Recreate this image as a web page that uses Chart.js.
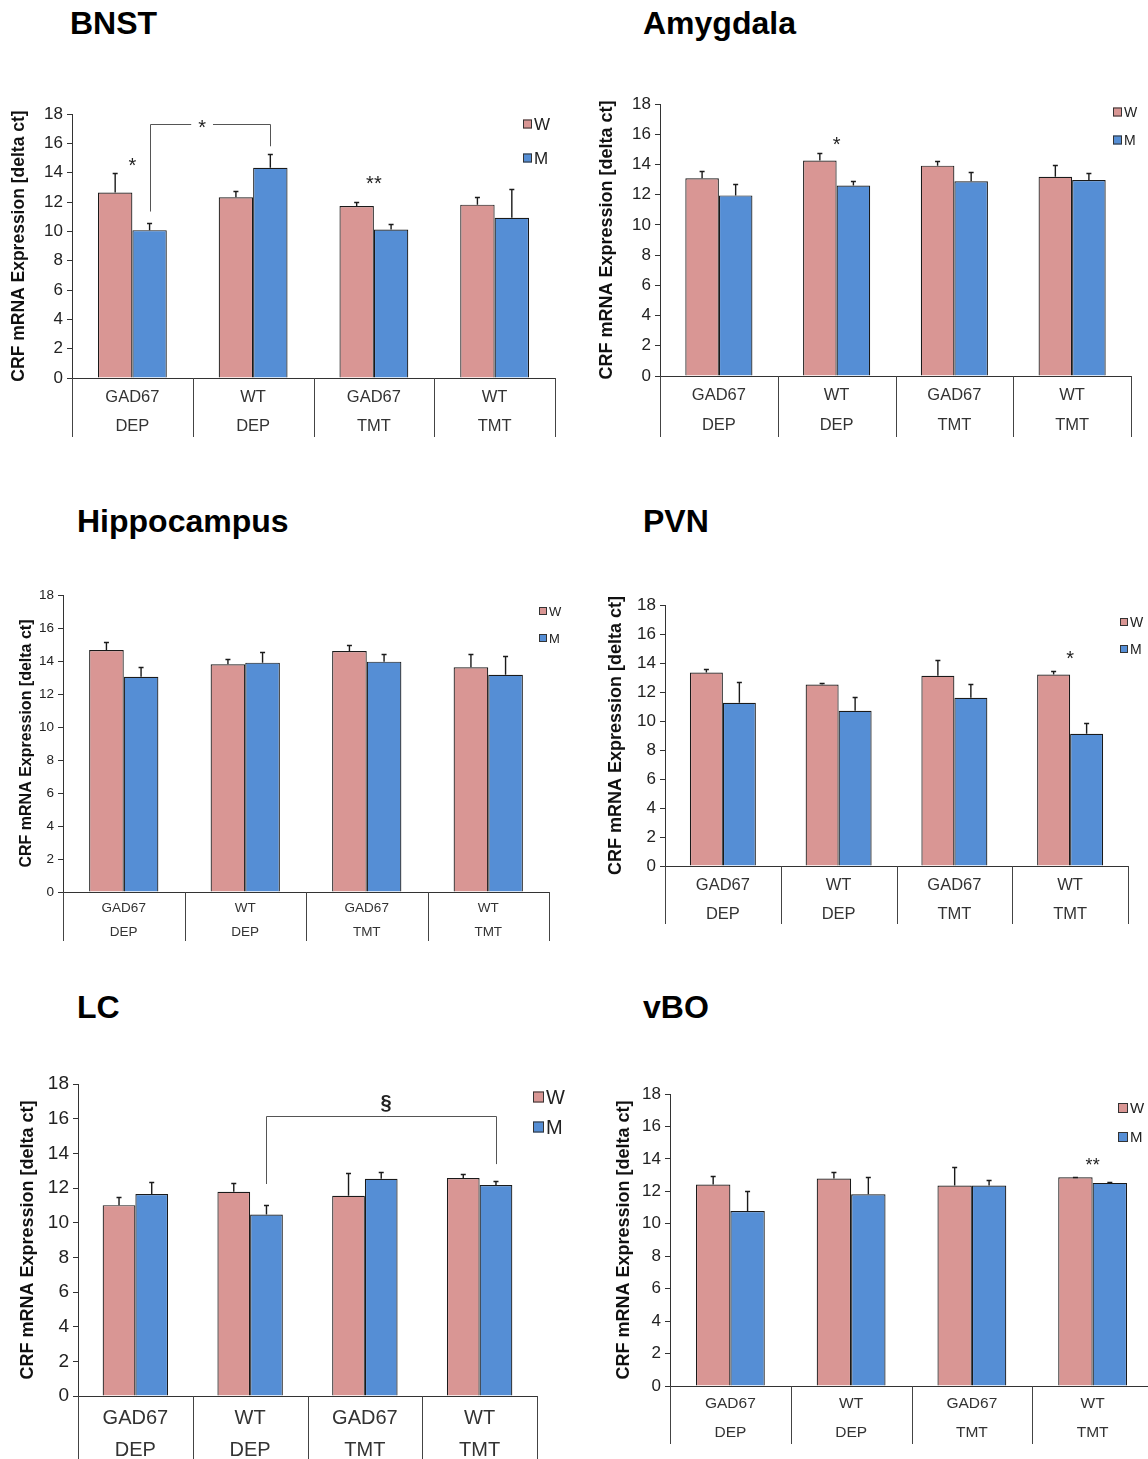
<!DOCTYPE html>
<html>
<head>
<meta charset="utf-8">
<title>CRF mRNA expression by region</title>
<script src="https://cdn.jsdelivr.net/npm/chart.js@4.4.1/dist/chart.umd.min.js"></script>
<style>
    html, body { margin: 0; padding: 0; background: #fff; overflow: hidden; }
    body { position: relative; width: 1148px; height: 1459px; font-family: 'Liberation Sans', Arial, sans-serif; }
    .region-title { position: absolute; font-size: 32px; line-height: 32px; font-weight: bold; color: #000; white-space: nowrap; }
    canvas { position: absolute; }
</style>
</head>
<body>
<script>
// groups on the x axis (genotype / treatment)
const categories = [['GAD67', 'DEP'], ['WT', 'DEP'], ['GAD67', 'TMT'], ['WT', 'TMT']]
const seriesNames = ['W', 'M']
const seriesColors = ['#D99694', '#558ED5']
const yMin = 0
const yMax = 18
const yStep = 2
const yAxisTitle = 'CRF mRNA Expression [delta ct]'

// mean delta ct and upper SEM per group
const bnstW = [12.65, 12.32, 11.73, 11.82]
const bnstWErr = [1.30, 0.44, 0.30, 0.50]
const bnstM = [10.08, 14.34, 10.12, 10.92]
const bnstMErr = [0.47, 0.96, 0.37, 1.97]

const amygdalaW = [13.08, 14.26, 13.92, 13.19]
const amygdalaWErr = [0.51, 0.53, 0.32, 0.80]
const amygdalaM = [11.95, 12.60, 12.88, 12.97]
const amygdalaMErr = [0.78, 0.33, 0.62, 0.49]

const hippocampusW = [14.67, 13.80, 14.61, 13.62]
const hippocampusWErr = [0.50, 0.32, 0.38, 0.83]
const hippocampusM = [13.05, 13.90, 13.96, 13.16]
const hippocampusMErr = [0.57, 0.67, 0.49, 1.13]

const pvnW = [13.35, 12.52, 13.12, 13.21]
const pvnWErr = [0.21, 0.12, 1.08, 0.26]
const pvnM = [11.26, 10.70, 11.60, 9.12]
const pvnMErr = [1.40, 0.97, 0.92, 0.76]

const lcW = [11.01, 11.78, 11.55, 12.57]
const lcWErr = [0.48, 0.48, 1.29, 0.23]
const lcM = [11.65, 10.47, 12.53, 12.17]
const lcMErr = [0.67, 0.54, 0.39, 0.23]

const vboW = [12.42, 12.79, 12.36, 12.87]
const vboWErr = [0.55, 0.43, 1.15, 0.03]
const vboM = [10.79, 11.82, 12.36, 12.52]
const vboMErr = [1.26, 1.05, 0.35, 0.04]

const FONT = "'Liberation Sans', Arial, sans-serif"
Chart.defaults.font.family = FONT

// page layout of each panel: canvas box, plot box, fonts, legend, significance marks
const panels = [
    {
        title: 'BNST', titleAt: [70, 34], w: bnstW, wErr: bnstWErr, m: bnstM, mErr: bnstMErr,
        canvas: {left: 5, top: 90, right: 570, bottom: 437},
        plot: {left: 72, right: 555, top: 114, bottom: 378},
        fonts: {tick: 17, cat: 16.5, catLine: 29, catPad: 4.5, yTitle: 17.5, mark: 20},
        legend: {x: 523, rows: [124, 158], box: 9, font: 17},
        marks: [{cat: 0, text: '*', value: 14.7}, {cat: 2, text: '**', value: 13.5}],
        brackets: [{from: [0, 1], to: [1, 1], left: 11.35, right: 15.8, top: 17.3, text: '*', textAt: 0.43, textValue: 17.3, gap: true}]
    },
    {
        title: 'Amygdala', titleAt: [643, 34], w: amygdalaW, wErr: amygdalaWErr, m: amygdalaM, mErr: amygdalaMErr,
        canvas: {left: 592, top: 80, right: 1148, bottom: 437},
        plot: {left: 660, right: 1131, top: 104, bottom: 376},
        fonts: {tick: 17, cat: 16.5, catLine: 30, catPad: 4, yTitle: 18, mark: 20},
        legend: {x: 1113, rows: [112, 140], box: 9, font: 14},
        marks: [{cat: 1, text: '*', value: 15.56}],
        brackets: []
    },
    {
        title: 'Hippocampus', titleAt: [77, 532], w: hippocampusW, wErr: hippocampusWErr, m: hippocampusM, mErr: hippocampusMErr,
        canvas: {left: 13, top: 575, right: 575, bottom: 941},
        plot: {left: 63, right: 549, top: 595, bottom: 892},
        fonts: {tick: 13.5, cat: 13.5, catLine: 24, catPad: 4, yTitle: 16, mark: 15},
        legend: {x: 539, rows: [611, 638], box: 8, font: 13},
        marks: [],
        brackets: []
    },
    {
        title: 'PVN', titleAt: [643, 532], w: pvnW, wErr: pvnWErr, m: pvnM, mErr: pvnMErr,
        canvas: {left: 601, top: 585, right: 1148, bottom: 924},
        plot: {left: 665, right: 1128, top: 605, bottom: 866},
        fonts: {tick: 17, cat: 16.5, catLine: 29, catPad: 4.5, yTitle: 18, mark: 20},
        legend: {x: 1120, rows: [622, 649], box: 8, font: 14},
        marks: [{cat: 3, text: '*', value: 14.55}],
        brackets: []
    },
    {
        title: 'LC', titleAt: [77, 1018], w: lcW, wErr: lcWErr, m: lcM, mErr: lcMErr,
        canvas: {left: 13, top: 1062, right: 580, bottom: 1459},
        plot: {left: 78, right: 537, top: 1084, bottom: 1396},
        fonts: {tick: 19, cat: 20, catLine: 32, catPad: 6, yTitle: 18, mark: 20},
        legend: {x: 533, rows: [1097, 1127], box: 11, font: 20},
        marks: [],
        brackets: [{from: [1, 1], to: [3, 1], left: 12.23, right: 13.38, top: 16.17, text: '§', textAt: 0.52, textValue: 16.85, gap: false, bold: true}]
    },
    {
        title: 'vBO', titleAt: [643, 1018], w: vboW, wErr: vboWErr, m: vboM, mErr: vboMErr,
        canvas: {left: 609, top: 1072, right: 1160, bottom: 1444},
        plot: {left: 670, right: 1153, top: 1094, bottom: 1386},
        fonts: {tick: 17, cat: 15.5, catLine: 29, catPad: 3.5, yTitle: 18, mark: 18},
        legend: {x: 1118, rows: [1108, 1137], box: 10, font: 15},
        marks: [{cat: 3, text: '**', value: 13.86}],
        brackets: []
    }
]

// draws text with its visible glyph box centred on y
function drawCentered(ctx, text, x, y) {
    const mt = ctx.measureText(text)
    ctx.fillText(text, x, y + (mt.actualBoundingBoxAscent - mt.actualBoundingBoxDescent) / 2)
}

function makeDecor(p) {
    return {
        id: 'decor',
        afterDatasetsDraw(chart) {
            const {ctx, chartArea} = chart
            const xs = chart.scales.x
            const ys = chart.scales.y
            ctx.save()

            // upper error bars
            ctx.strokeStyle = '#1a1a1a'
            ctx.lineWidth = 1.4
            chart.data.datasets.forEach((ds, di) => {
                chart.getDatasetMeta(di).data.forEach((bar, i) => {
                    const yTop = Math.round(ys.getPixelForValue(ds.data[i] + ds.errors[i])) + 0.5
                    ctx.beginPath()
                    ctx.moveTo(bar.x, bar.y)
                    ctx.lineTo(bar.x, yTop)
                    ctx.moveTo(bar.x - 2.5, yTop)
                    ctx.lineTo(bar.x + 2.5, yTop)
                    ctx.stroke()
                })
            })

            // vertical group separators below the axis
            const n = chart.data.labels.length
            const step = (xs.right - xs.left) / n
            ctx.strokeStyle = '#444'
            ctx.lineWidth = 1
            for (let k = 0; k <= n; k++) {
                const x = Math.round(xs.left + k * step) + 0.5
                ctx.beginPath()
                ctx.moveTo(x, chartArea.bottom)
                ctx.lineTo(x, chart.height)
                ctx.stroke()
            }

            // significance stars above a group
            ctx.fillStyle = '#222'
            ctx.textAlign = 'center'
            ctx.textBaseline = 'alphabetic'
            ctx.font = `${p.fonts.mark}px ${FONT}`
            p.marks.forEach(mk => {
                drawCentered(ctx, mk.text, xs.getPixelForValue(mk.cat), ys.getPixelForValue(mk.value))
            })

            // comparison brackets between two bars
            p.brackets.forEach(b => {
                const x1 = Math.round(chart.getDatasetMeta(b.from[1]).data[b.from[0]].x) + 0.5
                const x2 = Math.round(chart.getDatasetMeta(b.to[1]).data[b.to[0]].x) + 0.5
                const yL = ys.getPixelForValue(b.left)
                const yR = ys.getPixelForValue(b.right)
                const yT = Math.round(ys.getPixelForValue(b.top)) + 0.5
                const tx = x1 + (x2 - x1) * b.textAt
                ctx.font = `${b.bold ? 'bold ' : ''}${p.fonts.mark}px ${FONT}`
                const half = b.gap ? ctx.measureText(b.text).width / 2 + 7 : 0
                ctx.strokeStyle = '#555'
                ctx.lineWidth = 1
                ctx.beginPath()
                ctx.moveTo(x1, yL)
                ctx.lineTo(x1, yT)
                ctx.lineTo(tx - half, yT)
                if (b.gap) ctx.moveTo(tx + half, yT)
                ctx.lineTo(x2, yT)
                ctx.lineTo(x2, yR)
                ctx.stroke()
                ctx.fillStyle = '#222'
                drawCentered(ctx, b.text, tx, ys.getPixelForValue(b.textValue))
            })

            // legend inside the plot corner
            const lg = p.legend
            ctx.font = `${lg.font}px ${FONT}`
            ctx.textAlign = 'left'
            lg.rows.forEach((yc, i) => {
                const bx = lg.x - p.canvas.left
                const by = yc - p.canvas.top
                ctx.fillStyle = seriesColors[i]
                ctx.fillRect(bx, by - lg.box / 2, lg.box, lg.box)
                ctx.strokeStyle = '#333'
                ctx.strokeRect(bx + 0.5, by - lg.box / 2 + 0.5, lg.box - 1, lg.box - 1)
                ctx.fillStyle = '#222'
                drawCentered(ctx, seriesNames[i], bx + lg.box + 2, by)
            })

            ctx.restore()
        }
    }
}

panels.forEach(p => {
    const t = document.createElement('div')
    t.className = 'region-title'
    t.textContent = p.title
    t.style.left = p.titleAt[0] + 'px'
    t.style.top = (p.titleAt[1] - 27) + 'px'
    document.body.appendChild(t)

    const c = p.canvas
    const canvas = document.createElement('canvas')
    canvas.width = c.right - c.left
    canvas.height = c.bottom - c.top
    canvas.style.left = c.left + 'px'
    canvas.style.top = c.top + 'px'
    document.body.appendChild(canvas)

    const yWidth = p.plot.left - c.left
    const xHeight = c.bottom - p.plot.bottom
    const f = p.fonts

    new Chart(canvas, {
        type: 'bar',
        data: {
            labels: categories,
            datasets: [
                {label: seriesNames[0], data: p.w, errors: p.wErr, backgroundColor: seriesColors[0]},
                {label: seriesNames[1], data: p.m, errors: p.mErr, backgroundColor: seriesColors[1]}
            ].map(ds => ({...ds, borderColor: '#1a1a1a', borderWidth: 1.2, categoryPercentage: 0.57, barPercentage: 1}))
        },
        options: {
            responsive: false,
            animation: false,
            layout: {padding: {left: 0, top: p.plot.top - c.top, right: c.right - p.plot.right, bottom: 0}},
            plugins: {legend: {display: false}, tooltip: {enabled: false}},
            scales: {
                x: {
                    grid: {display: false, drawTicks: false},
                    border: {color: '#333', width: 1},
                    ticks: {color: '#333', font: {size: f.cat, lineHeight: f.catLine / f.cat}, padding: f.catPad, maxRotation: 0, autoSkip: false},
                    afterFit: s => { s.height = xHeight }
                },
                y: {
                    min: yMin,
                    max: yMax,
                    grid: {drawOnChartArea: false, tickLength: 5, color: '#333'},
                    border: {color: '#333', width: 1},
                    ticks: {stepSize: yStep, color: '#222', font: {size: f.tick}, padding: 4},
                    title: {display: true, text: yAxisTitle, color: '#111', font: {size: f.yTitle, weight: 'bold'}, padding: {top: 4, bottom: 4}},
                    afterFit: s => { s.width = yWidth }
                }
            }
        },
        plugins: [makeDecor(p)]
    })
})
</script>
</body>
</html>
